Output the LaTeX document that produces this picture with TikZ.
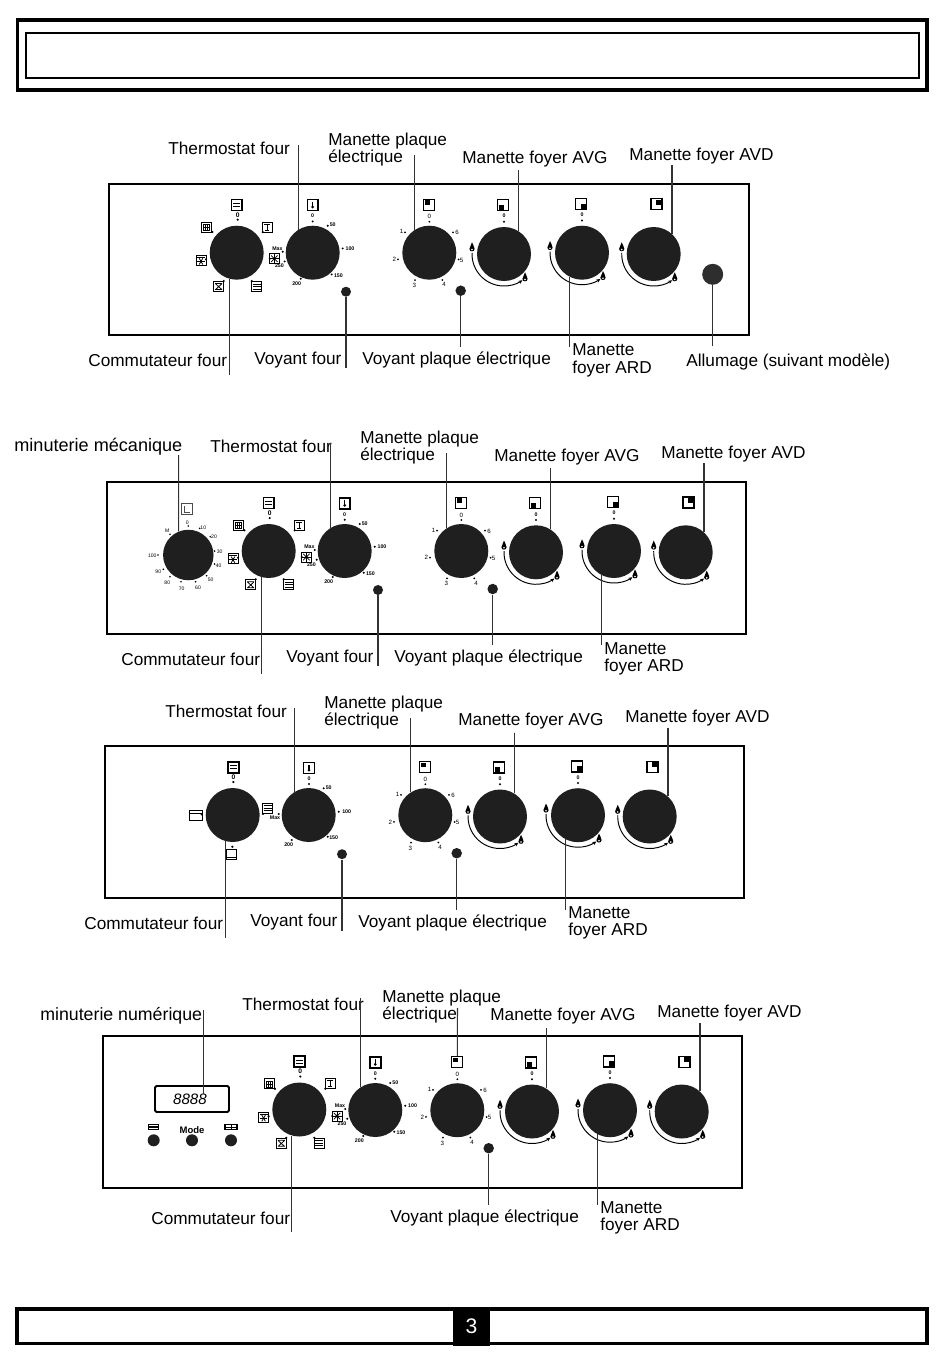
\documentclass[tikz,border=0pt]{standalone}
\usepackage{fontspec}
\setmainfont{Liberation Sans}
\usetikzlibrary{arrows.meta}
\definecolor{knobdark}{gray}{0.12}
\tikzset{
  knobdisc/.style={circle,fill=knobdark,minimum size=1.08cm,inner sep=0pt},
  lampdisc/.style={circle,fill=knobdark,minimum size=0.2cm,inner sep=0pt},
  callout/.style={anchor=west,inner sep=0pt,align=left,font=\fontsize{9.8}{9.9}\selectfont},
  markbold/.style={inner sep=0pt,font=\fontsize{3}{3}\selectfont\bfseries},
  markzero/.style={inner sep=0pt,font=\fontsize{3.8}{4}\selectfont\bfseries},
  markplain/.style={inner sep=0pt,font=\fontsize{3.5}{4}\selectfont},
  leadline/.style={line width=0.6pt,black!80},
  iconthin/.style={draw,rectangle,minimum size=0.2cm,inner sep=0pt,line width=0.4pt},
  iconthick/.style={draw,rectangle,minimum size=0.22cm,inner sep=0pt,line width=0.8pt},
  % small symbols
  pics/iconrows/.style={code={\node[iconthick] (-box) {};
    \draw[line width=0.5pt] (-3.5,-1.5) -- (3.5,-1.5) (-3.5,1.5) -- (3.5,1.5);}},
  pics/iconthree/.style={code={\node[iconthin] (-box) {};
    \draw[line width=0.3pt] (-4,-2.5) -- (4,-2.5) (-4,0) -- (4,0) (-4,2.5) -- (4,2.5);}},
  pics/icongrill/.style={code={\node[iconthin] (-box) {};
    \draw[line width=0.35pt] (-3,-3) rectangle (3,3) (-3,0) -- (3,0) (-1,-3) -- (-1,3) (1,-3) -- (1,3);}},
  pics/iconfanbox/.style={code={\node[iconthin] (-box) {};
    \foreach \a in {0,60,...,300} \draw[line width=0.45pt] (0,1) -- +(\a:3.6);
    \draw[line width=0.4pt] (-4,-3.2) -- (4,-3.2);}},
  pics/iconstem/.style={code={\node[iconthin] (-box) {};
    \draw[line width=0.45pt] (-3,-3) -- (3,-3) (0,-3) -- (0,3) (-2,3) -- (2,3);}},
  pics/iconcross/.style={code={\node[iconthin] (-box) {};
    \draw[line width=0.45pt] (-3.5,-3) -- (3.5,-3) (-3,-2.5) -- (3,3) (3,-2.5) -- (-3,3) (-3.5,3) -- (3.5,3);}},
  pics/iconrod/.style={code={\node[iconthick] (-box) {};
    \draw[line width=0.6pt] (0,-3.5) -- (0,2);
    \fill (0,2) circle (1.5);}},
  pics/iconclock/.style={code={\node[iconthick,line width=0.7pt,draw=black!70] (-box) {};
    \draw[line width=0.5pt,black!70] (-3,-3) -- (-3,3) -- (3,3);}},
  pics/iconplate/.style={code={\node[iconthick,line width=0.7pt] (-box) {};
    \fill (#1:3) +(-2.4,-2.4) rectangle +(2.4,2.4);}},
  pics/iconfan/.style={code={
    \foreach \a in {0,45,...,315} \draw[line width=0.4pt] (0,0) -- (\a:4.6);
    \fill (0,0) circle (1.6);
    \draw[line width=0.35pt] (-5,-5) rectangle (5,5);}},
  pics/flame/.style={code={
    \fill (0,-5) .. controls (0.6,-2.5) and (2.6,-1) .. (2.6,1.6) .. controls (2.6,3.4) and (1.2,4) .. (0,4) .. controls (-1.2,4) and (-2.6,3.4) .. (-2.6,1.6) .. controls (-2.6,-0.6) and (-0.4,-2) .. (0,-5) -- cycle;
    \fill[white] (0,2.2) circle (0.9);}},
  % dial groups
  pics/selector/.style={code={
    \node[knobdisc] (-knob) at (0,0) {};
    \foreach \dx/\dy in {1/-33,-24.3/-20.7,26/-20.7,-30.7/6.7,-13/28.3,15/28.3} \fill (\dx,\dy) circle (1.2);
    \node[markzero] (-zero) at (1,-38) {0};
    \pic (-top) at (0,-48) {iconrows};
    \pic (-ul) at (-30,-25.7) {icongrill};
    \pic (-ur) at (30.7,-25.7) {iconstem};
    \pic (-le) at (-35.7,7.7) {iconfanbox};
    \pic (-ll) at (-18,33.7) {iconcross};
    \pic (-lr) at (20,33.7) {iconthree};}},
  pics/selectorlite/.style={code={
    \node[knobdisc] (-knob) at (0,0) {};
    \foreach \dx/\dy in {0.7/-33,-31/-0.7,30.3/-1,-0.3/31.7} \fill (\dx,\dy) circle (1.2);
    \node[markzero] (-zero) at (0.7,-38) {0};
    \pic (-top) at (0.7,-47.7) {iconrows};
    \node[iconthin,minimum width=0.26cm] (-le) at (-37,0.7) {};
    \draw[line width=0.4pt] (-le.north west) ++(0,2.5) -- ++(13,0);
    \pic (-ri) at (35,-7) {iconthree};
    \node[iconthin] (-bo) at (-1,39) {};
    \draw[line width=0.4pt] (-bo.south west) ++(0,-2.5) -- ++(10,0);}},
  pics/thermo/.style={code={
    \node[knobdisc] (-knob) at (0,0) {};
    \foreach \dx/\dy in {0/-31.3,15/-27,30/-4.3,19/21.7,-12/26,-30/-1,-28/8.7,-43/6} \fill (\dx,\dy) circle (1.1);
    \foreach \tx/\ty/\val in {0/-36.7/0,20/-27.7/50,37.3/-4.3/100,25.7/22.7/150,-16/30.7/200,-35.3/-4.3/Max,-33.3/13.3/250}
      \node[markbold] (-m\val) at (\tx,\ty) {\val};
    \pic (-top) at (0,-47.7) {iconrod};
    \pic (-fan) at (-38.3,6) {iconfan};}},
  pics/thermolite/.style={code={
    \node[knobdisc] (-knob) at (0,0) {};
    \foreach \dx/\dy in {0.3/-31,15/-26.7,30/-3.3,19/21.7,-17/25,-30/-1} \fill (\dx,\dy) circle (1.1);
    \foreach \tx/\ty/\val in {0.3/-36/0,20/-27/50,38/-3.3/100,25/23/150,-20/30/200,-33.7/2.3/Max}
      \node[markbold] (-m\val) at (\tx,\ty) {\val};
    \pic (-top) at (0.3,-47) {iconrod};}},
  pics/plate/.style={code={
    \node[knobdisc] (-knob) at (0,0) {};
    \foreach \dx/\dy in {0/-31,-24.3/-20.3,23.7/-20.3,-31.3/6.7,29.3/6.7,-14.3/27.3,13/27.3} \fill (\dx,\dy) circle (1);
    \foreach \tx/\ty/\val in {0/-36/0,-27.7/-21/1,27.7/-20/6,-35/6.7/2,32.3/7.3/5,-15/32.7/3,14.7/32/4}
      \node[markplain] (-m\val) at (\tx,\ty) {\val};
    \pic (-top) at (0,-48) {iconplate=225};}},
  pics/timer/.style={code={
    \node[knobdisc,minimum size=1.01cm] (-knob) at (0,0) {};
    \foreach \dx/\dy in {0/-29,11.3/-26.7,22/-18.3,26.3/-4,26.3/9,18.3/20.7,7.3/26.7,-7.3/26.7,-18.3/21.7,-25/14.3,-30.3/0,-18.3/-20.7} \fill (\dx,\dy) circle (0.9);
    \foreach \tx/\ty/\val in {-1/-32.7/0,15/-27.7/10,25.7/-18/20,31.3/-3.7/30,30.3/11/40,22.3/24.3/50,9.7/32.3/60,-6.7/33.3/70,-21/28/80,-30/16.7/90,-36/0.7/100,-21/-24.3/M}
      \node[markplain,font=\fontsize{2.9}{3}\selectfont] (-m\val) at (\tx,\ty) {\val};
    \pic (-top) at (-1,-45.7) {iconclock};}},
  pics/burner/.style={code={
    \node[knobdisc] (-knob) at (0,0) {};
    \draw[line width=0.55pt,-{Stealth[length=0.8mm,width=0.7mm]}] (182:32) arc (182:55:32);
    \pic at (-32,-6.7) {flame};
    \pic at (21,23.3) {flame};}},
  pics/zeromark/.style={code={
    \fill (0,-32.3) circle (1.1);
    \node[markbold] (-zero) at (0,-38) {0};}}
}
\begin{document}
\begin{tikzpicture}[x=0.02cm,y=-0.02cm]
\useasboundingbox (0,0) rectangle (950,1367);
% page frames
\draw[line width=2.2pt] (17.5,20.3) rectangle (927,90);
\draw[line width=1pt] (26,32.7) rectangle (919,77.7);
\draw[line width=2.2pt] (17,1309) rectangle (927,1343.5);
\node[fill=black,text=white,minimum width=0.74cm,minimum height=0.76cm,inner sep=0pt,font=\fontsize{12}{12}\selectfont] (pageno) at (471.5,1326.5) {3};
% panels
\draw[line width=1.1pt] (109,184) rectangle (749,335);
\draw[line width=1.1pt] (107,482) rectangle (746,634);
\draw[line width=1.1pt] (105,746) rectangle (744,898);
\draw[line width=1.1pt] (103,1036) rectangle (742,1188);
% oven dials
\pic (a-sel) at (236.7,252.7) {selector};
\pic (a-therm) at (312.7,252.7) {thermo};
\pic (b-time) at (188.3,555) {timer};
\pic (b-sel) at (268.7,551) {selector};
\pic (b-therm) at (344.7,551) {thermo};
\pic (c-sel) at (232.7,815) {selectorlite};
\pic (c-therm) at (308.7,815) {thermolite};
\pic (d-sel) at (299.3,1109.5) {selector};
\pic (d-therm) at (375.3,1110) {thermo};
% hob dials, the same in each panel
\foreach \pan/\sx/\sy in {a/0/0,b/32/298.3,c/-4/562.5,d/28/857.5}{
  \begin{scope}[shift={(\sx,\sy)}]
    \pic (\pan-plate) at (429.3,252.7) {plate};
    \pic (\pan-avg) at (504,254) {burner};
    \pic (\pan-ard) at (582,252.7) {burner};
    \pic (\pan-avd) at (653.7,254) {burner};
    \pic at (504,254) {zeromark};
    \pic at (582,252.7) {zeromark};
    \pic at (503.3,205) {iconplate=135};
    \pic at (581,204) {iconplate=45};
    \pic at (656.4,204.3) {iconplate=315};
    \node[lampdisc,minimum size=0.21cm] (\pan-lamp) at (460.7,290.7) {};
    \node[callout] (\pan-lavg) at (462,159) {Manette foyer AVG};
    \node[callout] (\pan-lavd) at (629,156) {Manette foyer AVD};
    \node[callout] (\pan-lard) at (572,360.5) {Manette\\foyer ARD};
    \node[callout] (\pan-llamp) at (362,360) {Voyant plaque électrique};
    \coordinate (\pan-eavg) at (\pan-avg-knob.58 |- 0,170);
    \coordinate (\pan-eavd) at (\pan-avd-knob.48 |- 0,165);
    \coordinate (\pan-eard) at (\pan-ard-knob.-118 |- 0,347);
    \coordinate (\pan-elamp) at (\pan-lamp.south |- 0,347);
    \draw[leadline] (\pan-eavg) -- (\pan-avg-knob.58);
    \draw[leadline] (\pan-eavd) -- (\pan-avd-knob.48);
    \draw[leadline] (\pan-eard) -- (\pan-ard-knob.-118);
    \draw[leadline] (\pan-elamp) -- (\pan-lamp);
  \end{scope}
}
% oven lamp and switch labels
\foreach \pan/\sx/\sy in {a/0/0,b/32/298.3,c/-4/562.5}{
  \begin{scope}[shift={(\sx,\sy)}]
    \node[lampdisc] (\pan-ovlamp) at (346,291.7) {};
    \node[callout] (\pan-lovlamp) at (254,360) {Voyant four};
    \coordinate (\pan-eovlamp) at (\pan-ovlamp.south |- 0,368);
    \draw[leadline] (\pan-eovlamp) -- (\pan-ovlamp);
  \end{scope}
}
\node[callout] (a-lsel) at (88,360) {Commutateur four};
\node[callout] (b-lsel) at (121,659) {Commutateur four};
\node[callout] (c-lsel) at (84,923) {Commutateur four};
\node[callout] (d-lsel) at (151,1218) {Commutateur four};
\node[callout] (a-ltherm) at (168,148) {Thermostat four};
\node[callout] (b-ltherm) at (210,446) {Thermostat four};
\node[callout] (c-ltherm) at (165,711) {Thermostat four};
\node[callout] (d-ltherm) at (242,1004) {Thermostat four};
\node[callout] (a-lplate) at (328,149.5) {Manette plaque\\électrique};
\node[callout] (b-lplate) at (360,447.5) {Manette plaque\\électrique};
\node[callout] (c-lplate) at (324,712.5) {Manette plaque\\électrique};
\node[callout] (d-lplate) at (382,1006.5) {Manette plaque\\électrique};
\foreach \pan/\yt/\yb in {a/145/375,b/443/674,c/708/938,d/998/1232}{
  \coordinate (\pan-etherm) at (\pan-therm-knob.122 |- 0,\yt);
  \coordinate (\pan-esel) at (\pan-sel-knob.-106 |- 0,\yb);
  \draw[leadline] (\pan-etherm) -- (\pan-therm-knob.122);
  \draw[leadline] (\pan-esel) -- (\pan-sel-knob.-106);
}
\foreach \pan/\yt in {a/155,b/453,c/718}{
  \coordinate (\pan-eplate) at (\pan-plate-knob.122 |- 0,\yt);
  \draw[leadline] (\pan-eplate) -- (\pan-plate-knob.122);
}
\coordinate (d-eplate) at (457.5,1008);
\draw[leadline] (d-eplate) -- (d-plate-top-box.north);
% gas lighter
\node[circle,fill=black!82,minimum size=0.42cm,inner sep=0pt] (a-light) at (712.7,274.3) {};
\node[callout] (a-llight) at (686,362) {Allumage (suivant modèle)};
\coordinate (a-elight) at (a-light.south |- 0,346);
\draw[leadline] (a-elight) -- (a-light);
% mechanical timer
\node[callout,font=\fontsize{10.3}{10}\selectfont] (b-ltime) at (14,447) {minuterie mécanique};
\coordinate (b-etime) at (178.7,455);
\draw[leadline] (b-etime) -- (b-time-knob.112);
% digital timer
\node[draw,line width=1.1pt,rounded corners=0.8pt,minimum width=1.48cm,minimum height=0.52cm,inner sep=0pt] (d-clock) at (192,1099) {};
\node[inner sep=0pt,font=\fontsize{8.6}{9}\selectfont\itshape] (d-digits) at (190,1099.5) {8888};
\node[callout,font=\fontsize{10.1}{10}\selectfont] (d-lclock) at (40,1016) {minuterie numérique};
\coordinate (d-eclock) at (203.5,1010);
\draw[leadline] (d-eclock) -- (d-eclock |- d-digits.north);
\node[lampdisc,minimum size=0.24cm] (d-minus) at (153.7,1140.3) {};
\node[lampdisc,minimum size=0.24cm] (d-mode) at (192,1140.3) {};
\node[lampdisc,minimum size=0.24cm] (d-plus) at (231,1140.3) {};
\node[inner sep=0pt,font=\fontsize{5.4}{6}\selectfont\bfseries] (d-lmode) at (192,1130.3) {Mode};
\node[draw,line width=0.7pt,minimum width=0.2cm,minimum height=0.11cm,inner sep=0pt] (d-iminus) at (153.7,1127) {};
\draw[line width=0.6pt] (d-iminus.west) -- (d-iminus.east);
\node[draw,line width=0.7pt,minimum width=0.24cm,minimum height=0.11cm,inner sep=0pt] (d-iplus) at (231,1127) {};
\draw[line width=0.5pt] (d-iplus.north) -- (d-iplus.south) (d-iplus.west) -- (d-iplus.east);
\end{tikzpicture}
\end{document}
